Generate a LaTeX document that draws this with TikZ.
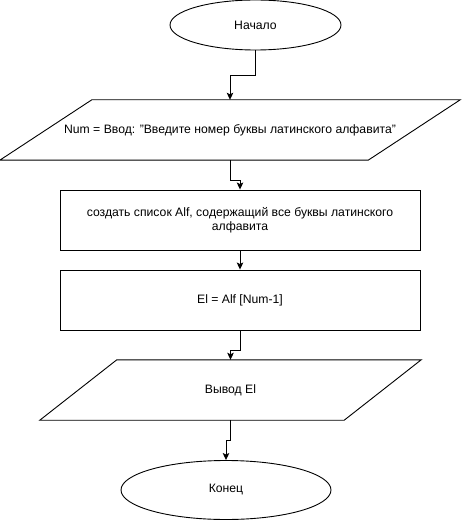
\documentclass[tikz,border=0pt]{standalone}
\usepackage{fontspec}
\defaultfontfeatures{}
\setmainfont{Liberation Sans}
\usetikzlibrary{shapes.geometric,arrows.meta,calc}
\begin{document}
\begin{tikzpicture}[x=1pt,y=-1pt,
  every node/.style={font=\fontsize{12.2}{14}\selectfont, inner sep=0pt},
  term/.style={ellipse, draw, line width=0.9pt},
  procbox/.style={rectangle, draw, line width=0.9pt, minimum width=360, minimum height=60, align=center},
  iobox/.style={rectangle, minimum height=60},
  para/.style={line width=0.9pt},
  conn/.style={line width=0.9pt, -{Stealth[length=7pt,width=6.5pt,inset=1.5pt]}}
]
\useasboundingbox (0,0) rectangle (461,521);
\node[term, minimum width=171, minimum height=50] (start) at (255.5,25) {Начало};
\node[iobox, minimum width=368] (in1) at (230,130) {Num = Ввод: "Введите номер буквы латинского алфавита"};
\draw[para] ($(in1.south west)+(-46,0)$) -- ($(in1.south east)+(-46,0)$) -- ($(in1.north east)+(46,0)$) -- ($(in1.north west)+(46,0)$) -- cycle;
\node[procbox] (p1) at (240,220) {создать список Alf, содержащий все буквы латинского\\алфавита};
\node[procbox] (p2) at (240,300) {El = Alf [Num-1]};
\node[iobox, minimum width=304] (out) at (230.5,390) {Вывод El};
\draw[para] ($(out.south west)+(-38.5,0)$) -- ($(out.south east)+(-38.5,0)$) -- ($(out.north east)+(38.5,0)$) -- ($(out.north west)+(38.5,0)$) -- cycle;
\node[term, minimum width=210, minimum height=59] (end) at (226,490) {Конец};
\draw[conn] (start.south) -- ++(0,25) -| (in1.north);
\draw[conn] (in1.south) -- ++(0,20) -| (p1.north);
\draw[conn] (p1.south) -- (p2.north);
\draw[conn] (p2.south) -- ++(0,20) -| (out.north);
\draw[conn] (out.south) -- ++(0,20) -| (end.north);
\end{tikzpicture}
\end{document}
